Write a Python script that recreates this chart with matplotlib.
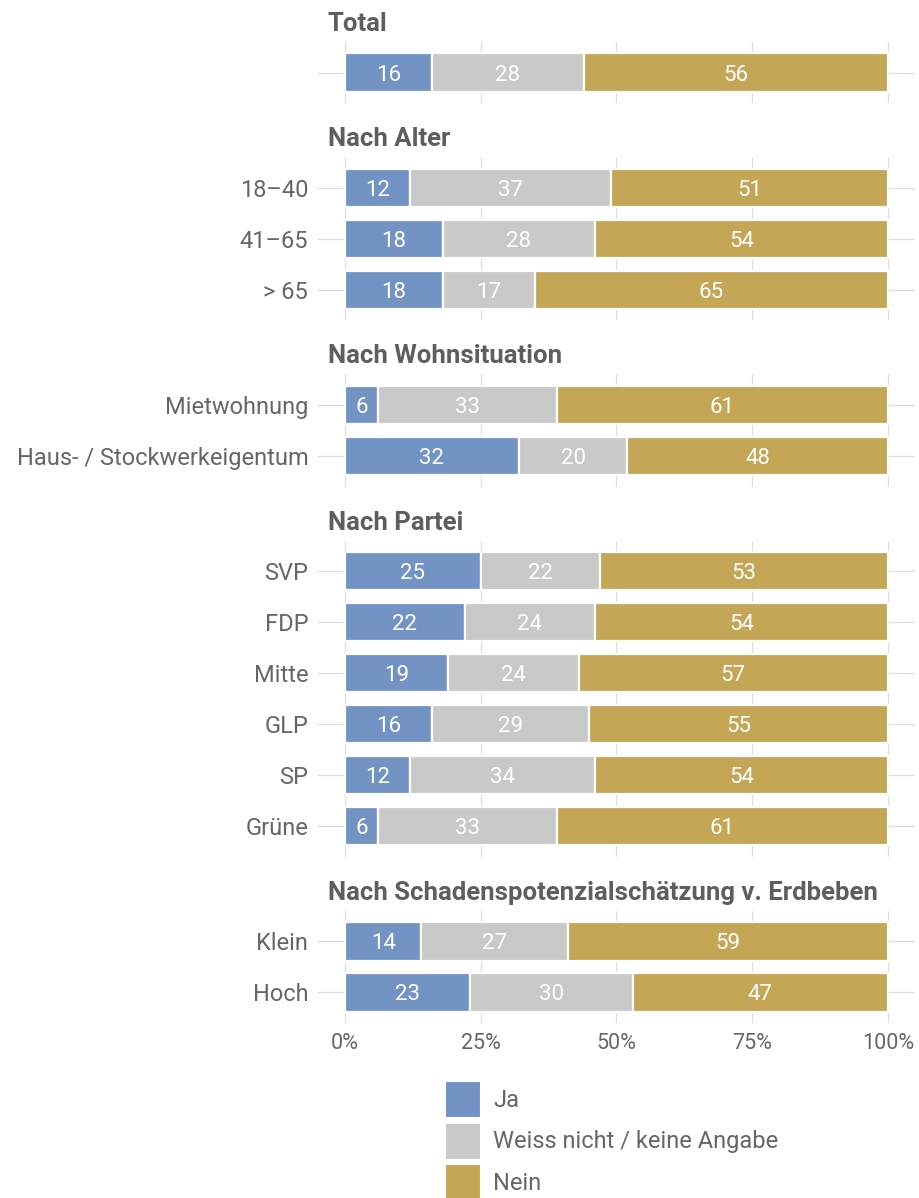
import matplotlib.pyplot as plt
from matplotlib.patches import Patch

plt.rcParams['font.family'] = ['Roboto', 'DejaVu Sans']

W, H, DPI = 920, 1198, 100

groups = ['Total', 'Nach Alter', 'Nach Wohnsituation', 'Nach Partei',
          'Nach Schadenspotenzialschätzung v. Erdbeben']
labels = [[''],
          ['18–40', '41–65', '> 65'],
          ['Mietwohnung', 'Haus- / Stockwerkeigentum'],
          ['SVP', 'FDP', 'Mitte', 'GLP', 'SP', 'Grüne'],
          ['Klein', 'Hoch']]
ja = [[16], [12, 18, 18], [6, 32], [25, 22, 19, 16, 12, 6], [14, 23]]
weiss = [[28], [37, 28, 17], [33, 20], [22, 24, 24, 29, 34, 33], [27, 30]]
nein = [[56], [51, 54, 65], [61, 48], [53, 54, 57, 55, 54, 61], [59, 47]]

series = ['Ja', 'Weiss nicht / keine Angabe', 'Nein']
colors = ['#7393c4', '#c9c9c9', '#c4a656']
xticks = [0, 25, 50, 75, 100]
xticklabels = ['0%', '25%', '50%', '75%', '100%']

TXT = '#666666'
GRID = '#dedede'
FS_LAB = 16      # bar values
FS_TICK = 17     # category labels / legend
FS_X = 15.5      # x axis
FS_TITLE = 18.5

# layout in pixels
u = 51          # px per row
gap = 54        # px between panels
top = 42
left, right = 318, 915

fig = plt.figure(figsize=(W / DPI, H / DPI), dpi=DPI)

y0 = top
for i, g in enumerate(groups):
    n = len(labels[i])
    h = (n + 0.2) * u
    ax = fig.add_axes([left / W, 1 - (y0 + h) / H, (right - left) / W, h / H])
    ys = list(range(n))
    cum = [0] * n
    for vals, c in zip([ja[i], weiss[i], nein[i]], colors):
        ax.barh(ys, vals, left=cum, height=0.75, color=c, edgecolor='white',
                linewidth=1.6, zorder=2)
        for y, v, l in zip(ys, vals, cum):
            ax.text(l + v / 2, y, str(v), ha='center', va='center_baseline',
                    color='white', fontsize=FS_LAB, zorder=3)
        cum = [a + b for a, b in zip(cum, vals)]
    ax.set_xlim(-5, 105)
    ax.set_ylim(n - 0.4, -0.6)
    ax.set_yticks(ys)
    ax.set_yticklabels(labels[i], color=TXT, fontsize=FS_TICK)
    ax.set_xticks(xticks)
    ax.grid(True, color=GRID, linewidth=0.9, zorder=0)
    ax.set_axisbelow(True)
    ax.tick_params(length=0, pad=7)
    for s in ax.spines.values():
        s.set_visible(False)
    if i == len(groups) - 1:
        ax.set_xticklabels(xticklabels, color=TXT, fontsize=FS_X)
    else:
        ax.set_xticklabels([])
    fig.text(328 / W, 1 - (y0 - 11) / H, g, ha='left', va='baseline',
             fontsize=FS_TITLE, fontweight='bold', color='#5e5e5e')
    y0 += h + gap

handles = [Patch(facecolor=c, edgecolor='white', linewidth=0.8) for c in colors]
fig.legend(handles, series, loc='upper left',
           bbox_to_anchor=(445 / W, 1 - 1081 / H), frameon=False,
           borderpad=0, borderaxespad=0, fontsize=FS_TICK, labelcolor=TXT,
           handlelength=1.5, handleheight=2.0, labelspacing=0.22,
           handletextpad=0.55)

fig.savefig('out.png', dpi=DPI)
